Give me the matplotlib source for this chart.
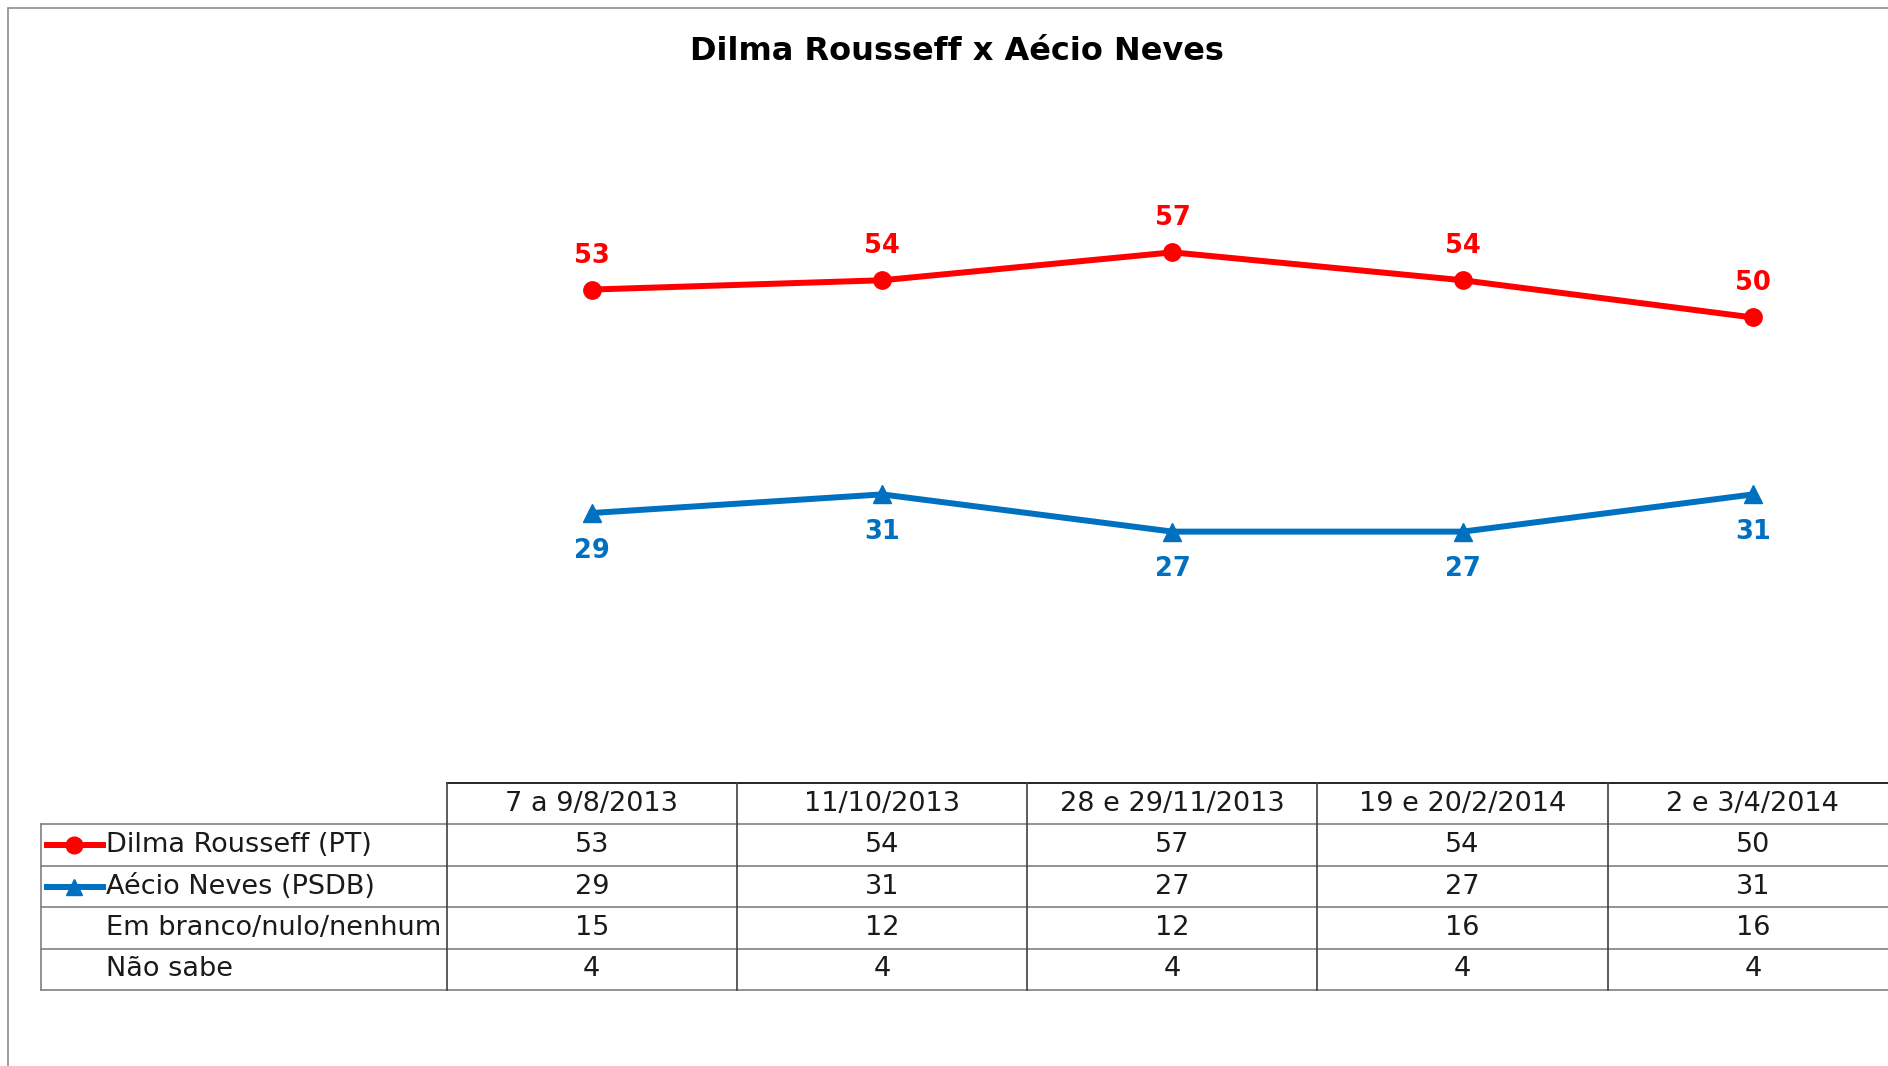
import matplotlib.pyplot as plt
from matplotlib.lines import Line2D
from matplotlib.patches import Rectangle

periods = ['7 a 9/8/2013', '11/10/2013', '28 e 29/11/2013', '19 e 20/2/2014', '2 e 3/4/2014']
dilma = [53, 54, 57, 54, 50]
aecio = [29, 31, 27, 27, 31]
branco = [15, 12, 12, 16, 16]
nao_sabe = [4, 4, 4, 4, 4]
row_labels = ['Dilma Rousseff (PT)', 'Aécio Neves (PSDB)', 'Em branco/nulo/nenhum', 'Não sabe']

RED = '#FF0000'
BLUE = '#0070C0'
W, H = 1888, 1066
COL = 290.3  # pixel width of one period column

fig = plt.figure(figsize=(W / 100, H / 100), dpi=100)
fig.patch.set_facecolor('white')

# outer frame, only top and left edges visible
fig.patches.append(Rectangle((8 / W, -0.1), 1.2, (H - 8) / H + 0.1, transform=fig.transFigure,
                             fill=False, edgecolor='#8c8c8c', linewidth=1.2))

fig.text(957 / W, 1 - 51 / H, 'Dilma Rousseff x Aécio Neves', ha='center', va='center',
         fontsize=23, fontweight='bold', color='black')

# line chart
ax = fig.add_axes([446.7 / W, (H - 783) / H, 5 * COL / W, 70 * 9.31 / H])
x = list(range(len(periods)))
ax.plot(x, dilma, color=RED, linewidth=4.3, marker='o', markersize=12.5, clip_on=False)
ax.plot(x, aecio, color=BLUE, linewidth=4.3, marker='^', markersize=13, clip_on=False)
for xi, v in zip(x, dilma):
    ax.annotate(str(v), (xi, v), xytext=(0, 24.5), textcoords='offset points', ha='center',
                va='center', fontsize=18.5, fontweight='bold', color=RED)
for xi, v in zip(x, aecio):
    ax.annotate(str(v), (xi, v), xytext=(0, -27), textcoords='offset points', ha='center',
                va='center', fontsize=18.5, fontweight='bold', color=BLUE)
ax.set_xlim(-0.5, 4.5)
ax.set_ylim(0, 70)
ax.axis('off')

# data table below the chart
label_w = 406 / COL
tx0 = -0.5 - label_w
tax = fig.add_axes([40.7 / W, (H - 990) / H, (1898 - 40.7) / W, 207 / H])
tax.set_xlim(tx0, 4.5)
tax.set_ylim(5, 0)
tax.axis('off')

tax.plot([-0.5, 4.5], [0, 0], color='black', linewidth=1.2, clip_on=False)
for r in range(1, 6):
    tax.plot([tx0, 4.5], [r, r], color='#808080', linewidth=1.2, clip_on=False)
tax.plot([tx0, tx0], [1, 5], color='#808080', linewidth=1.2, clip_on=False)
for c in range(6):
    tax.plot([c - 0.5, c - 0.5], [0, 5], color='#404040', linewidth=1.2, clip_on=False)

for c, p in enumerate(periods):
    tax.text(c, 0.5, p, ha='center', va='center', fontsize=19.5, color='#1a1a1a')

rows = [dilma, aecio, branco, nao_sabe]
for r, (lab, vals) in enumerate(zip(row_labels, rows), start=1):
    tax.text(tx0 + 65.3 / COL, r + 0.5, lab, ha='left', va='center', fontsize=19.5, color='#1a1a1a')
    for c, v in enumerate(vals):
        tax.text(c, r + 0.5, str(v), ha='center', va='center', fontsize=19.5, color='#1a1a1a')

# legend keys inside the label column
kx = [tx0 + 6 / COL, tx0 + 62.3 / COL]
km = tx0 + 33.3 / COL
tax.add_line(Line2D(kx, [1.5, 1.5], color=RED, linewidth=4.3))
tax.plot([km], [1.5], marker='o', color=RED, markersize=12)
tax.add_line(Line2D(kx, [2.5, 2.5], color=BLUE, linewidth=4.3))
tax.plot([km], [2.5], marker='^', color=BLUE, markersize=12)

fig.savefig('out.png', dpi=100)
